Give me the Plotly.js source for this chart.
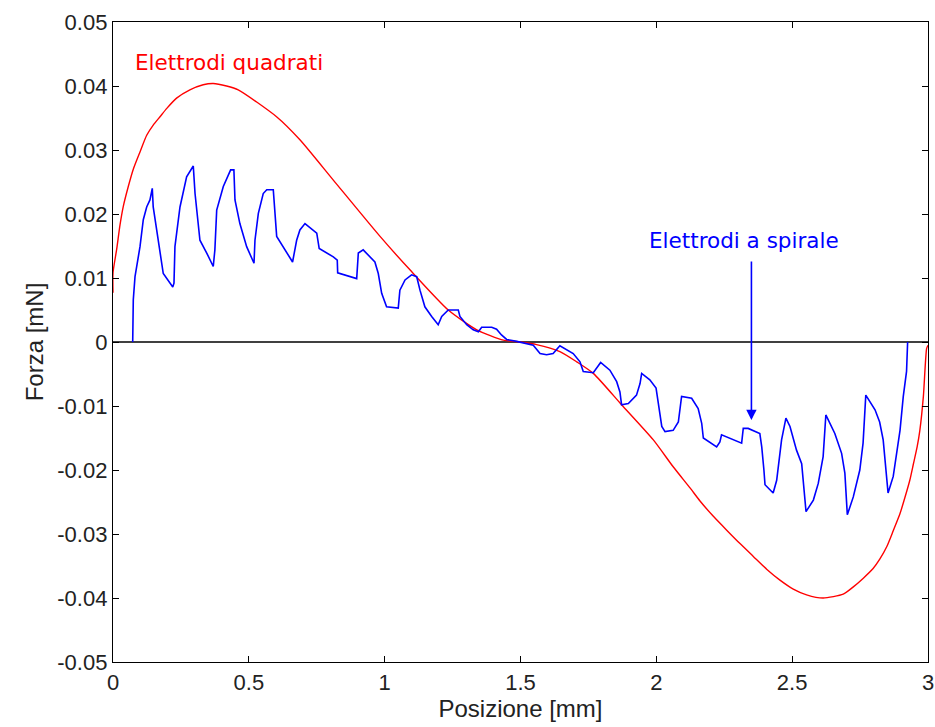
<!DOCTYPE html>
<html>
<head>
<meta charset="utf-8">
<script src="https://cdn.plot.ly/plotly-3.0.1.min.js"></script>
<style>html,body{margin:0;padding:0;background:#fff;}#chart{width:935px;height:727px;}</style>
</head>
<body>
<div id="chart"></div>
<script>
// Red curve: "Elettrodi quadrati"
const quadX = [0, 0, 0.0136, 0.0258, 0.0379, 0.0563, 0.0747, 0.0994, 0.124, 0.148, 0.173, 0.198, 0.234, 0.283, 0.332, 0.369, 0.418, 0.461, 0.602, 0.688, 0.811, 0.983, 1.099, 1.234, 1.339, 1.437, 1.498, 1.559, 1.645, 1.707, 1.768, 1.872, 1.989, 2.062, 2.124, 2.16, 2.209, 2.259, 2.308, 2.357, 2.406, 2.455, 2.504, 2.553, 2.614, 2.688, 2.724, 2.762, 2.798, 2.823, 2.848, 2.872, 2.897, 2.915, 2.933, 2.946, 2.96, 2.97, 2.983, 2.995, 3.0];
const quadY = [0.0077, 0.0108, 0.0145, 0.0183, 0.0212, 0.0243, 0.027, 0.0297, 0.0323, 0.0339, 0.0352, 0.0365, 0.0381, 0.0394, 0.0402, 0.0404, 0.04, 0.0394, 0.0352, 0.0316, 0.0253, 0.0165, 0.011, 0.005, 0.0019, 0.0003, 0, -0.0004, -0.0015, -0.0031, -0.0049, -0.0098, -0.0153, -0.0195, -0.0228, -0.0248, -0.0272, -0.0294, -0.0315, -0.0335, -0.0355, -0.0372, -0.0386, -0.0395, -0.04, -0.0394, -0.0383, -0.0369, -0.0354, -0.0339, -0.032, -0.0295, -0.0268, -0.0243, -0.0216, -0.0191, -0.0164, -0.0138, -0.0085, -0.001, -0.0005];

// Blue curve: "Elettrodi a spirale"
const spirX = [0.0725, 0.0747, 0.081, 0.0994, 0.1115, 0.124, 0.136, 0.1446, 0.148, 0.167, 0.185, 0.22, 0.2245, 0.228, 0.2466, 0.271, 0.2955, 0.302, 0.314, 0.32, 0.345, 0.369, 0.375, 0.3817, 0.406, 0.433, 0.445, 0.449, 0.467, 0.492, 0.519, 0.5226, 0.535, 0.553, 0.566, 0.59, 0.6025, 0.627, 0.661, 0.676, 0.688, 0.7067, 0.75, 0.759, 0.811, 0.8255, 0.827, 0.897, 0.903, 0.921, 0.964, 0.9765, 0.989, 1.007, 1.05, 1.056, 1.075, 1.099, 1.118, 1.13, 1.148, 1.173, 1.197, 1.21, 1.234, 1.271, 1.277, 1.302, 1.326, 1.345, 1.357, 1.394, 1.412, 1.43, 1.449, 1.486, 1.516, 1.547, 1.572, 1.596, 1.62, 1.633, 1.645, 1.694, 1.719, 1.731, 1.768, 1.795, 1.829, 1.854, 1.866, 1.872, 1.897, 1.927, 1.94, 1.946, 1.976, 1.999, 2.007, 2.02, 2.032, 2.062, 2.081, 2.093, 2.13, 2.154, 2.167, 2.173, 2.222, 2.234, 2.24, 2.314, 2.32, 2.338, 2.381, 2.388, 2.396, 2.4, 2.43, 2.443, 2.461, 2.477, 2.492, 2.516, 2.535, 2.551, 2.578, 2.596, 2.614, 2.624, 2.657, 2.682, 2.694, 2.703, 2.725, 2.749, 2.761, 2.771, 2.805, 2.822, 2.835, 2.841, 2.853, 2.872, 2.897, 2.909, 2.921, 2.925];
const spirY = [0, 0.0066, 0.0102, 0.0149, 0.0191, 0.0211, 0.0222, 0.024, 0.0211, 0.0159, 0.0107, 0.0086, 0.0092, 0.0149, 0.0211, 0.0258, 0.0275, 0.0232, 0.0185, 0.0159, 0.0139, 0.0118, 0.0144, 0.0206, 0.0243, 0.0269, 0.0269, 0.0222, 0.0185, 0.0149, 0.0123, 0.0159, 0.0201, 0.0232, 0.0238, 0.0238, 0.0165, 0.0149, 0.0125, 0.0159, 0.0175, 0.0185, 0.017, 0.0146, 0.0133, 0.0128, 0.0108, 0.0099, 0.0139, 0.0144, 0.0125, 0.0107, 0.0076, 0.0055, 0.0053, 0.0081, 0.0097, 0.0105, 0.0102, 0.0081, 0.0055, 0.004, 0.0027, 0.004, 0.005, 0.005, 0.004, 0.0027, 0.0019, 0.0016, 0.0023, 0.0023, 0.002, 0.0011, 0.0004, 0.0001, -0.0002, -0.0005, -0.0018, -0.002, -0.0018, -0.0012, -0.0006, -0.0018, -0.0031, -0.0046, -0.0048, -0.0032, -0.0044, -0.0062, -0.0078, -0.0098, -0.0096, -0.0083, -0.0065, -0.0049, -0.0059, -0.0072, -0.0093, -0.0132, -0.014, -0.0138, -0.0125, -0.0085, -0.0088, -0.0104, -0.0127, -0.015, -0.0164, -0.0156, -0.0145, -0.0158, -0.0135, -0.0135, -0.0143, -0.0164, -0.02, -0.0223, -0.0236, -0.0216, -0.0153, -0.0119, -0.0132, -0.0169, -0.019, -0.0265, -0.0247, -0.0221, -0.0179, -0.0114, -0.0143, -0.0174, -0.0205, -0.027, -0.0242, -0.02, -0.0158, -0.0083, -0.0106, -0.0125, -0.0153, -0.0179, -0.0236, -0.021, -0.0138, -0.0085, -0.0046, 0];

// Zero reference line
const zeroX = [0, 3];
const zeroY = [0, 0];

// Ticks
const xTickVals = [0, 0.5, 1, 1.5, 2, 2.5, 3];
const xTickText = ["0", "0.5", "1", "1.5", "2", "2.5", "3"];
const yTickVals = [0.05, 0.04, 0.03, 0.02, 0.01, 0, -0.01, -0.02, -0.03, -0.04, -0.05];
const yTickText = ["0.05", "0.04", "0.03", "0.02", "0.01", "0", "-0.01", "-0.02", "-0.03", "-0.04", "-0.05"];

const labelQuad = "Elettrodi quadrati";
const labelSpir = "Elettrodi a spirale";

const tickFont = {family: "Liberation Sans, Arial, sans-serif", size: 22, color: "#222"};

const traces = [
  {x: zeroX, y: zeroY, mode: "lines", line: {color: "#000", width: 1.5}, hoverinfo: "skip", showlegend: false},
  {x: quadX, y: quadY, mode: "lines", line: {color: "#ff0000", width: 1.4, shape: "spline", smoothing: 0.6}, showlegend: false},
  {x: spirX, y: spirY, mode: "lines", line: {color: "#0000ff", width: 1.6}, showlegend: false}
];

const layout = {
  width: 935, height: 727,
  margin: {l: 113, r: 7, t: 22, b: 65},
  paper_bgcolor: "#fff", plot_bgcolor: "#fff",
  showlegend: false,
  xaxis: {
    range: [0, 3], tickvals: xTickVals, ticktext: xTickText,
    showline: true, mirror: "ticks", linecolor: "#000", linewidth: 1.2,
    ticks: "inside", ticklen: 6, tickcolor: "#000", tickwidth: 1,
    showgrid: false, zeroline: false, tickfont: tickFont,
    title: {text: "Posizione [mm]", font: {family: "Liberation Sans, Arial, sans-serif", size: 24, color: "#222"}, standoff: 4}
  },
  yaxis: {
    range: [-0.05, 0.05], tickvals: yTickVals, ticktext: yTickText,
    showline: true, mirror: "ticks", linecolor: "#000", linewidth: 1.2,
    ticks: "inside", ticklen: 6, tickcolor: "#000", tickwidth: 1,
    showgrid: false, zeroline: false, tickfont: tickFont,
    title: {text: "Forza [mN]", font: {family: "Liberation Sans, Arial, sans-serif", size: 24, color: "#222"}, standoff: 6}
  },
  annotations: [
    {x: 0.0736, y: 0.04375, xref: "x", yref: "y", text: labelQuad, showarrow: false, xanchor: "left", yanchor: "middle",
     font: {family: "DejaVu Sans, sans-serif", size: 21.5, color: "#ff0000"}},
    {x: 1.965, y: 0.0159, xref: "x", yref: "y", text: labelSpir, showarrow: false, xanchor: "left", yanchor: "middle",
     font: {family: "DejaVu Sans, sans-serif", size: 21.5, color: "#0000ff"}},
    {x: 2.35, y: -0.0122, ax: 2.35, ay: 0.0128, xref: "x", yref: "y", axref: "x", ayref: "y", text: "",
     showarrow: true, arrowhead: 2, arrowsize: 1.3, arrowwidth: 1.6, arrowcolor: "#0000ff"}
  ]
};

Plotly.newPlot("chart", traces, layout, {displayModeBar: false, staticPlot: true});
</script>
</body>
</html>
